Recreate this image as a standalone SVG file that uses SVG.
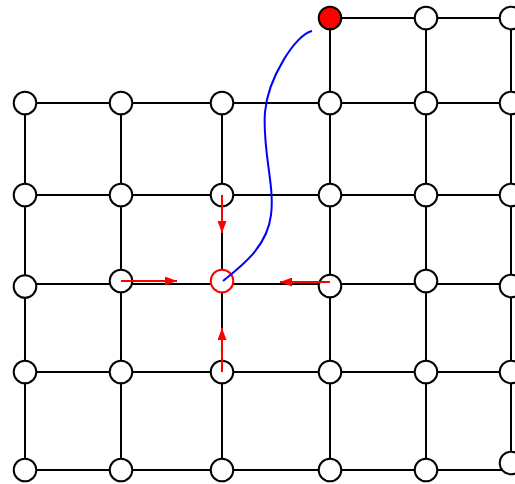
<svg xmlns="http://www.w3.org/2000/svg" width="515" height="484" viewBox="0 0 515 484">
<style>
.e{stroke:#000;stroke-width:2;fill:none}
.n{fill:#fff;stroke:#000;stroke-width:2}
.r{stroke:#f00;stroke-width:2;fill:none}
</style>
<defs>
<marker id="ah" viewBox="0 0 12 9" refX="12" refY="4.5" markerWidth="12" markerHeight="9" markerUnits="userSpaceOnUse" orient="auto">
<path d="M0,0 L12,4.5 L0,9 z" fill="#f00"/>
</marker>
</defs>
<rect width="515" height="484" fill="#fff"/>
<g id="connectors">
<path class="e" d="M330,18 H511 M25,103 H511 M25,195 H511 M25,284 H511 M25,372 H511 M25,470 H511"/>
<path class="e" d="M25,103 V470 M121,103 V470 M222,103 V470 M330,18 V470 M426,18 V470 M511,18 V463"/>
</g>
<g id="n-0-3"><circle cx="330" cy="18" r="11.3" fill="#f00" stroke="#000" stroke-width="2"/></g>
<g id="n-0-4"><circle class="n" cx="426" cy="18" r="11.3"/></g>
<g id="n-0-5"><circle class="n" cx="511" cy="18" r="11.3"/></g>
<g id="n-1-0"><circle class="n" cx="25" cy="103" r="11.3"/></g>
<g id="n-1-1"><circle class="n" cx="121" cy="103" r="11.3"/></g>
<g id="n-1-2"><circle class="n" cx="222" cy="103" r="11.3"/></g>
<g id="n-1-3"><circle class="n" cx="330" cy="103" r="11.3"/></g>
<g id="n-1-4"><circle class="n" cx="426" cy="103" r="11.3"/></g>
<g id="n-1-5"><circle class="n" cx="511" cy="103" r="11.3"/></g>
<g id="n-2-0"><circle class="n" cx="25" cy="195" r="11.3"/></g>
<g id="n-2-1"><circle class="n" cx="121" cy="195" r="11.3"/></g>
<g id="n-2-2"><circle class="n" cx="222" cy="195" r="11.3"/></g>
<g id="n-2-3"><circle class="n" cx="330" cy="195" r="11.3"/></g>
<g id="n-2-4"><circle class="n" cx="426" cy="195" r="11.3"/></g>
<g id="n-2-5"><circle class="n" cx="511" cy="195" r="11.3"/></g>
<g id="n-3-0"><circle class="n" cx="25" cy="286.5" r="11.3"/></g>
<g id="n-3-1"><circle class="n" cx="121" cy="281" r="11.3"/></g>
<g id="n-3-2"><circle cx="222" cy="281" r="11.3" fill="#fff" stroke="#f00" stroke-width="2"/></g>
<g id="n-3-3"><circle class="n" cx="330" cy="286" r="11.3"/></g>
<g id="n-3-4"><circle class="n" cx="426" cy="281" r="11.3"/></g>
<g id="n-3-5"><circle class="n" cx="511" cy="286" r="11.3"/></g>
<g id="n-4-0"><circle class="n" cx="25" cy="372" r="11.3"/></g>
<g id="n-4-1"><circle class="n" cx="121" cy="372" r="11.3"/></g>
<g id="n-4-2"><circle class="n" cx="222" cy="372" r="11.3"/></g>
<g id="n-4-3"><circle class="n" cx="330" cy="372" r="11.3"/></g>
<g id="n-4-4"><circle class="n" cx="426" cy="372" r="11.3"/></g>
<g id="n-4-5"><circle class="n" cx="511" cy="372" r="11.3"/></g>
<g id="n-5-0"><circle class="n" cx="25" cy="470" r="11.3"/></g>
<g id="n-5-1"><circle class="n" cx="121" cy="470" r="11.3"/></g>
<g id="n-5-2"><circle class="n" cx="222" cy="470" r="11.3"/></g>
<g id="n-5-3"><circle class="n" cx="330" cy="470" r="11.3"/></g>
<g id="n-5-4"><circle class="n" cx="426" cy="470" r="11.3"/></g>
<g id="n-5-5"><circle class="n" cx="511" cy="463" r="11.3"/></g>
<g id="overlay-connectors">
<path d="M312,31 C296,34 268,78 265,112 C262,150 275,185 271,215 C267,248 240,267 223,281" stroke="#00f" stroke-width="2" fill="none"/>
<path class="r" d="M222,195 V233" marker-end="url(#ah)"/>
<path class="r" d="M121,281 H177" marker-end="url(#ah)"/>
<path class="r" d="M330,282 H280" marker-end="url(#ah)"/>
<path class="r" d="M222,372 V328" marker-end="url(#ah)"/>
</g>
</svg>
